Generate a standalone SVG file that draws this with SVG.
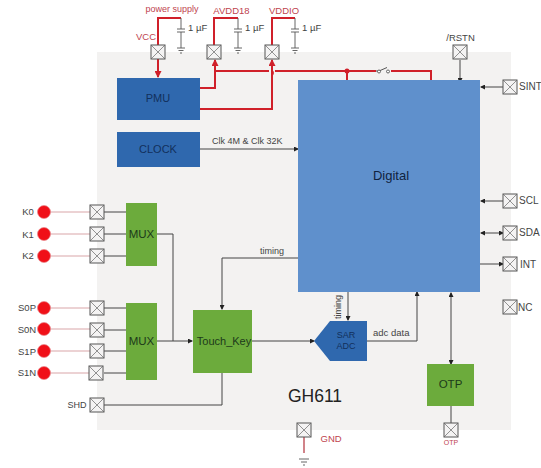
<svg xmlns="http://www.w3.org/2000/svg" width="541" height="468" viewBox="0 0 541 468">
<defs>
<marker id="a" markerWidth="5" markerHeight="5" refX="4" refY="2.5" orient="auto-start-reverse" markerUnits="userSpaceOnUse"><path d="M0,0L5,2.5L0,5Z" fill="#222"/></marker>
<marker id="r" markerWidth="8" markerHeight="7" refX="6" refY="3.5" orient="auto" markerUnits="userSpaceOnUse"><path d="M0,0L7,3.5L0,7Z" fill="#d0202a"/></marker>
<g id="pin"><rect x="-7" y="-7" width="14" height="14" fill="#f4f3f3" stroke="#555" stroke-width="1"/><path d="M-7,-7L7,7M7,-7L-7,7" stroke="#666" stroke-width=".7" fill="none"/></g>
<g id="cap"><path d="M0,-13V-2M-4,-2H4M-4,1H4M0,1V17M-4,17H4M-2.500,19.500H2.500M-1,22H1" stroke="#555" stroke-width=".9" fill="none"/></g>
</defs>
<style>
text{font-family:"Liberation Sans",Arial,sans-serif;fill:#444;font-size:9.500px}
.red{fill:#c0444f}
.lab{font-size:11px;text-anchor:middle}
.dark{fill:#1c3a1a;font-size:11.500px;text-anchor:middle}
.navy{fill:#12305c;text-anchor:middle}
.c{fill:none;stroke:#444;stroke-width:1}
.w{fill:none;stroke:#d0202a;stroke-width:2}
.pk{fill:none;stroke:#d9a5a8;stroke-width:1}
.dot{fill:#f01018;stroke:#e8858a;stroke-width:.7}
</style>
<rect width="541" height="468" fill="#fff"/>
<rect x="97" y="52" width="414" height="378" fill="#f3f2f1"/>

<g id="connectors">
<path class="w" d="M158,45V18H181"/><path class="w" d="M158,59V77" marker-end="url(#r)"/>
<path class="w" d="M214,45V18H238"/><path class="w" d="M200,88H215V60" marker-end="url(#r)"/>
<path class="w" d="M272,45V18H295"/><path class="w" d="M200,109H272V60" marker-end="url(#r)"/>
<path class="w" d="M215,71H269"/><path d="M272,71a3,3 0 0 1 0,4" class="w"/><path class="w" d="M275,71H376"/>
<path class="w" d="M347,71V83M391,71H431V85"/>
<circle cx="347" cy="71" r="2.500" fill="#d0202a"/>
<path d="M376,71H378M379,71L387,67.500" stroke="#444" stroke-width=".9" fill="none"/>
<circle cx="379" cy="71.500" r="1.500" fill="#fff" stroke="#444" stroke-width=".8"/><circle cx="388" cy="71.500" r="1.500" fill="#fff" stroke="#444" stroke-width=".8"/>
<path class="c" d="M460,60V82" marker-end="url(#a)"/>
<path class="c" d="M504,87H481" marker-end="url(#a)"/>
<path class="c" d="M200,149H298" marker-end="url(#a)"/>
<path class="c" d="M504,201H481" marker-end="url(#a)"/>
<path class="c" d="M481,233H503" marker-start="url(#a)" marker-end="url(#a)"/>
<path class="c" d="M480,264H503" marker-end="url(#a)"/>
<path class="pk" d="M50,212H90M50,234H90M50,256H90M50,308H90M50,329H90M50,351H90M50,373H90"/>
<path class="c" d="M104,212H126M104,234H126M104,256H126M104,308H126M104,330H126M104,351H126M104,373H126"/>
<path class="c" d="M157,234H173V341M157,341H192" marker-end="url(#a)"/>
<path class="c" d="M104,405H222V373"/>
<path class="c" d="M298,258H222V309" marker-end="url(#a)"/>
<path class="c" d="M252,341H314" marker-end="url(#a)"/>
<path class="c" d="M348,292V320" marker-end="url(#a)"/>
<path class="c" d="M367,341H417V292" marker-end="url(#a)"/>
<path class="c" d="M451,293V364" marker-start="url(#a)" marker-end="url(#a)"/>
<path class="c" d="M451,406V423"/>
<path d="M304,437V453" stroke="#b8404a" stroke-width="1.300" fill="none"/>
<path d="M299,459H309M301,462H307M303,465H305" stroke="#555" stroke-width=".9" fill="none"/>
</g>

<g id="vcc"><use href="#pin" x="158" y="52"/><text x="146" y="40" class="red" style="font-size:9.500px" text-anchor="middle">VCC</text><text x="172" y="12" class="red" text-anchor="middle" style="font-size:9px">power supply</text><use href="#cap" x="181" y="31"/><text x="188" y="31">1 µF</text></g>
<g id="avdd18"><use href="#pin" x="214" y="52"/><text x="231.500" y="14" class="red" style="font-size:9.500px" text-anchor="middle">AVDD18</text><use href="#cap" x="238" y="31"/><text x="245" y="31">1 µF</text></g>
<g id="vddio"><use href="#pin" x="272" y="52"/><text x="284" y="14" class="red" style="font-size:9.500px" text-anchor="middle">VDDIO</text><use href="#cap" x="295" y="31"/><text x="302" y="31">1 µF</text></g>
<g id="pmu"><rect x="117" y="78" width="83" height="42" fill="#2f68ae"/><text x="158" y="102" class="navy" style="font-size:11px">PMU</text></g>
<g id="clock"><rect x="117" y="132" width="83" height="35" fill="#2f68ae"/><text x="158" y="153" class="navy" style="font-size:11px">CLOCK</text></g>
<text x="212" y="144" style="font-size:9px">Clk 4M &amp; Clk 32K</text>
<g id="digital"><rect x="298" y="80" width="182" height="212" fill="#5f90cc"/><text x="391" y="180" style="font-size:13px;fill:#10233f" text-anchor="middle">Digital</text></g>
<g id="rstn"><use href="#pin" x="460" y="52"/><text x="460.500" y="41" class="lab" style="font-size:9.500px">/RSTN</text></g>
<g id="sint"><use href="#pin" x="510" y="87"/><text x="519" y="90" style="font-size:10px">SINT</text></g>
<g id="scl"><use href="#pin" x="510" y="201"/><text x="519" y="204" style="font-size:10px">SCL</text></g>
<g id="sda"><use href="#pin" x="510" y="233"/><text x="519" y="236" style="font-size:10px">SDA</text></g>
<g id="int"><use href="#pin" x="510" y="264"/><text x="520" y="268" style="font-size:10px">INT</text></g>
<g id="nc"><use href="#pin" x="510" y="307"/><text x="518" y="311" style="font-size:10px">NC</text></g>

<g id="k0"><circle class="dot" cx="44" cy="212" r="6.500"/><use href="#pin" x="97" y="212"/><text x="28" y="215" class="lab" style="font-size:9.500px">K0</text></g>
<g id="k1"><circle class="dot" cx="44" cy="234" r="6.500"/><use href="#pin" x="97" y="234"/><text x="28" y="238" class="lab" style="font-size:9.500px">K1</text></g>
<g id="k2"><circle class="dot" cx="44" cy="256" r="6.500"/><use href="#pin" x="97" y="256"/><text x="28" y="259" class="lab" style="font-size:9.500px">K2</text></g>
<g id="s0p"><circle class="dot" cx="44" cy="308" r="6.500"/><use href="#pin" x="97" y="308"/><text x="27" y="311" class="lab" style="font-size:9.500px">S0P</text></g>
<g id="s0n"><circle class="dot" cx="44" cy="329" r="6.500"/><use href="#pin" x="97" y="330"/><text x="27" y="333" class="lab" style="font-size:9.500px">S0N</text></g>
<g id="s1p"><circle class="dot" cx="44" cy="351" r="6.500"/><use href="#pin" x="97" y="351"/><text x="27" y="355" class="lab" style="font-size:9.500px">S1P</text></g>
<g id="s1n"><circle class="dot" cx="44" cy="373" r="6.500"/><use href="#pin" x="96" y="373"/><text x="27" y="376" class="lab" style="font-size:9.500px">S1N</text></g>
<g id="shd"><use href="#pin" x="97" y="405"/><text x="77" y="408" class="lab" style="font-size:9px">SHD</text></g>
<g id="mux1"><rect x="126" y="203" width="31" height="63" fill="#6cab3c"/><text x="141.500" y="238" class="dark">MUX</text></g>
<g id="mux2"><rect x="126" y="303" width="31" height="77" fill="#6cab3c"/><text x="141.500" y="345" class="dark">MUX</text></g>
<g id="touch"><rect x="193" y="310" width="59" height="63" fill="#6cab3c"/><text x="224" y="345" class="dark" style="font-size:11px">Touch_Key</text></g>
<g id="adc"><path d="M314,341L330,321H367V361H330Z" fill="#2f68ae"/><text x="346" y="338" class="navy" style="font-size:9px">SAR</text><text x="346" y="349" class="navy" style="font-size:9px">ADC</text></g>
<g id="otp"><rect x="427" y="364" width="47" height="42" fill="#6cab3c"/><text x="450.500" y="388" class="dark">OTP</text><use href="#pin" x="451" y="430"/><text x="451" y="445" class="red" style="font-size:7px" text-anchor="middle">OTP</text></g>
<g id="gnd"><use href="#pin" x="304" y="430"/><text x="320.500" y="442" class="red" style="font-size:9.500px">GND</text></g>
<text x="260" y="254" style="font-size:9px">timing</text>
<text transform="translate(341,319) rotate(-90)" style="font-size:9px">timing</text>
<text x="373" y="336" style="font-size:9.500px">adc data</text>
<text x="315" y="402" style="font-size:17.500px;fill:#222" text-anchor="middle">GH611</text>
</svg>
